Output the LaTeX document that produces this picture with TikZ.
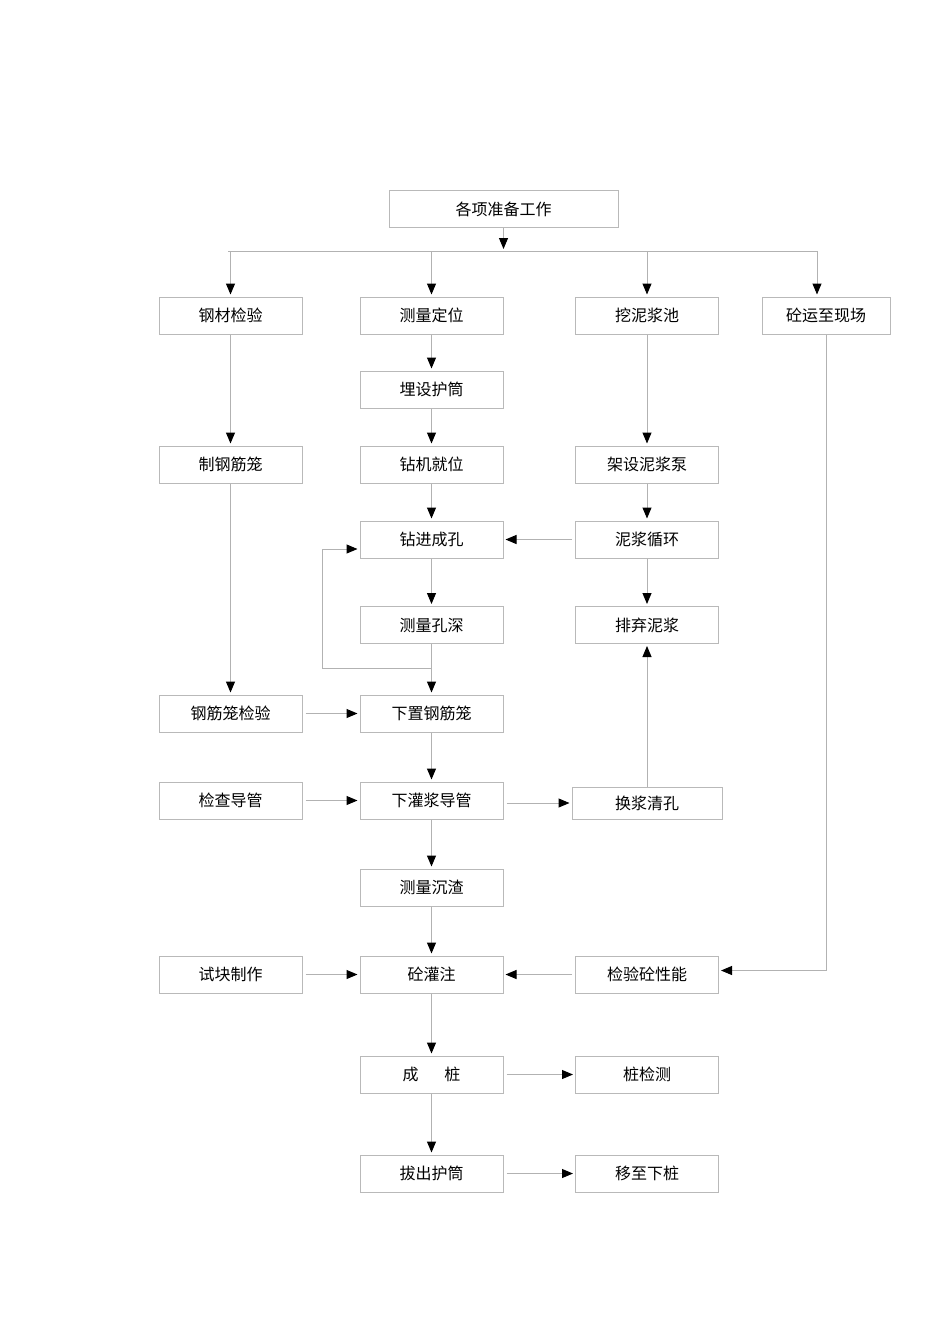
\documentclass[tikz,border=0pt]{standalone}
\usepackage{fontspec}
\setmainfont{Noto Sans CJK SC}
\usetikzlibrary{arrows.meta}

\begin{document}
\begin{tikzpicture}[x=0.5pt, y=-0.5pt,
    box/.style={draw=gray!55, line width=0.5pt, minimum width=71.5pt, minimum height=18.5pt,
                inner sep=0pt, font=\fontsize{8}{9}\selectfont},
    flow/.style={draw=gray!60, line width=0.5pt, shorten >=1pt,
                 -{Triangle[length=5.5pt, width=4.5pt, color=black]}},
    wire/.style={draw=gray!60, line width=0.5pt}]
    % Page
    \useasboundingbox (0,0) rectangle (950,1344);

    % Columns
    \def\colA{230.5}
    \def\colB{431.5}
    \def\colC{647}

    % Top box and fan out
    \node[box, minimum width=114.5pt] (prep) at (503.5,209) {各项准备工作};
    \coordinate (barL) at (228,251);
    \coordinate (barR) at (817,251);
    \draw[wire] (barL) -- (barR);
    \draw[flow] (prep.south) -- (prep.south |- barL);

    % First row
    \node[box] (steel)  at (\colA,315.5) {钢材检验};
    \node[box] (survey) at (\colB,315.5) {测量定位};
    \node[box] (pit)    at (\colC,315.5) {挖泥浆池};
    \node[box, minimum width=64pt] (conc) at (826,315.5) {砼运至现场};
    \foreach \n in {steel, survey, pit} {
        \draw[flow] (\n.north |- barL) -- (\n.north);
    }
    \draw[flow] (barR) -- (barR |- conc.north);

    % Left column
    \node[box] (cage)    at (\colA,464.5) {制钢筋笼};
    \node[box] (cagechk) at (\colA,713.5) {钢筋笼检验};
    \node[box] (tubechk) at (\colA,800.5) {检查导管};
    \node[box] (sample)  at (\colA,974.5) {试块制作};

    % Middle column
    \node[box] (casing)   at (\colB,389.5)  {埋设护筒};
    \node[box] (rig)      at (\colB,464.5)  {钻机就位};
    \node[box] (drill)    at (\colB,539.5)  {钻进成孔};
    \node[box] (depth)    at (\colB,625)    {测量孔深};
    \node[box] (cagein)   at (\colB,713.5)  {下置钢筋笼};
    \node[box] (tubein)   at (\colB,800.5)  {下灌浆导管};
    \node[box] (sediment) at (\colB,887.5)  {测量沉渣};
    \node[box] (pour)     at (\colB,974.5)  {砼灌注};
    \node[box] (pile)     at (\colB,1074.5) {成\hspace{1.6em}桩};
    \node[box] (pull)     at (\colB,1173.5) {拔出护筒};

    % Right column
    \node[box] (pump)    at (\colC,464.5)  {架设泥浆泵};
    \node[box] (circ)    at (\colC,539.5)  {泥浆循环};
    \node[box] (waste)   at (\colC,625)    {排弃泥浆};
    \node[box, minimum width=75pt, minimum height=16pt] (swap) at (\colC,803) {换浆清孔};
    \node[box] (concchk) at (\colC,974.5)  {检验砼性能};
    \node[box] (pilechk) at (\colC,1074.5) {桩检测};
    \node[box] (next)    at (\colC,1173.5) {移至下桩};

    % Vertical flow
    \draw[flow] (steel) -- (cage);
    \draw[flow] (cage) -- (cagechk);
    \foreach \a/\b in {survey/casing, casing/rig, rig/drill, drill/depth, depth/cagein,
                       cagein/tubein, tubein/sediment, sediment/pour, pour/pile, pile/pull,
                       pit/pump, pump/circ, circ/waste, swap/waste} {
        \draw[flow] (\a) -- (\b);
    }

    % Horizontal flow
    \foreach \a/\b in {circ/drill, cagechk/cagein, tubechk/tubein,
                       sample/pour, concchk/pour, pile/pilechk, pull/next} {
        \draw[flow, shorten <=1.5pt] (\a) -- (\b);
    }
    \draw[flow, shorten <=1.5pt] (tubein.east |- swap.west) -- (swap.west);

    % Repeat drilling loop
    \coordinate (loop) at (322,668);
    \draw[flow] (depth.south |- loop) -- (loop) |- ([yshift=-4.75pt]drill.west);

    % Concrete to test
    \draw[flow] (conc.south) |- ([yshift=2pt]concchk.east);
\end{tikzpicture}
\end{document}
